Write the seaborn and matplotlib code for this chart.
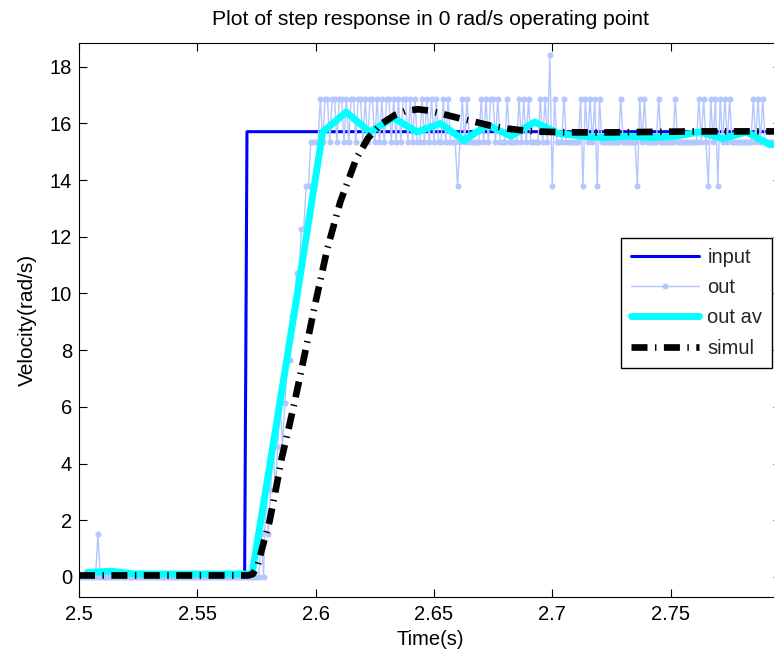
import numpy as np
import matplotlib
matplotlib.use("Agg")
import matplotlib.pyplot as plt
import seaborn as sns

# ---------------- data ----------------
input_t = [2.500, 2.5700, 2.5710, 2.7970]
input_v = [0.0, 0.0, 15.71, 15.71]

L, H, D, S = 15.34, 16.87, 13.80, 18.41
out_v = (
    [0.0] * 8 + [1.53] + [0.0] * 68 +                        # i 0..76
    [1.53, 0.0, 3.07, 1.53, 3.07, 4.60, 3.07, 4.60, 6.14, 4.60,
     6.14, 7.67, 7.67, 9.20, 9.20, 10.74, 10.74, 12.27, 12.27, 13.80,
     13.80, 15.34, 15.34] +                                  # i 77..99
    [L, L, H, L, H, H, L, H, H, L,
     H, H, L, H, L, H, H, L, H, H,
     L, H, L, H, H, L, H, L, H, L,
     H, H, L, H, L, H, L, H, H, L,
     H, L, H, L, L, H, L, H, L, H,
     L, H, L, L, H, L, H, L, L, L,
     D, L, H, L, H, L, L, L, L, L,
     H, L, H, L, H, H, L, H, L, L,
     L, H, L, L, L, L, H, L, H, L,
     H, L, L, L, L, H, L, H, L, S,
     D, H, L, L, L, H, L, L, L, L,
     L, L, H, D, H, L, H, L, H, D,
     H, L, L, L, L, L, L, L, L, H,
     L, L, L, L, L, L, D, H, L, H,
     L, L, L, L, L, H, L, L, L, L,
     L, L, H, L, L, L, L, L, L, L,
     L, L, H, L, H, L, D, H, L, H,
     D, H, L, H, L, H, L, L, L, L,
     L, L, L, L, L, H, L, H, L, H,
     L, L, L, L, L, L, L]                                    # i 100..296
)
out_t = 2.500 + 0.001 * np.arange(len(out_v))

avg_v = [0.15, 0.20, 0.10, 0.10, 0.10, 0.10, 0.10, 0.10, 5.20, 10.40,
         15.70, 16.40, 15.70, 16.20, 15.70, 16.00, 15.40, 15.95, 15.55, 16.05,
         15.65, 15.55, 15.50, 15.55, 15.50, 15.55, 15.70, 15.46, 15.70, 15.25,
         15.30]
avg_t = 2.5035 + 0.00995 * np.arange(len(avg_v))

sim_t = [2.500, 2.560, 2.5715, 2.5735, 2.5755, 2.578, 2.5805, 2.583, 2.5857,
         2.5885, 2.5912, 2.5955, 2.600, 2.605, 2.6105, 2.6172, 2.6223, 2.628,
         2.6336, 2.6385, 2.6433, 2.648, 2.6529, 2.660, 2.6672, 2.674, 2.681,
         2.688, 2.695, 2.705, 2.720, 2.740, 2.760, 2.780, 2.797]
sim_v = [0.05, 0.05, 0.05, 0.10, 0.40, 1.20, 1.95, 3.00, 4.20,
         5.20, 6.20, 7.90, 9.70, 11.60, 13.25, 14.76, 15.50, 16.00,
         16.30, 16.45, 16.50, 16.45, 16.35, 16.20, 16.06, 15.92, 15.82,
         15.75, 15.71, 15.69, 15.68, 15.70, 15.72, 15.72, 15.72]

x_ticks = [2.5, 2.55, 2.6, 2.65, 2.7, 2.75]
x_tick_labels = ["2.5", "2.55", "2.6", "2.65", "2.7", "2.75"]
y_ticks = [0, 2, 4, 6, 8, 10, 12, 14, 16, 18]

# ---------------- style ----------------
sns.set_style("ticks")
plt.rcParams["font.family"] = ["Liberation Sans", "DejaVu Sans"]
FS = 14.5

W, Hpx = 774, 659
fig = plt.figure(figsize=(W / 100, Hpx / 100), dpi=100)
ax_left, ax_right, ax_top, ax_bot = 79, 781, 42.7, 596.7
ax = fig.add_axes([ax_left / W, 1 - ax_bot / Hpx,
                   (ax_right - ax_left) / W, (ax_bot - ax_top) / Hpx])

sns.lineplot(x=input_t, y=input_v, ax=ax, color="#0000ff", linewidth=2.2,
             label="input", sort=False, estimator=None)
sns.lineplot(x=out_t, y=out_v, ax=ax, color="#b4c6ff", linewidth=1.0,
             marker="o", markersize=3.8, markeredgecolor="#b4c6ff",
             markerfacecolor="#b4c6ff", markeredgewidth=0.5,
             label="out", sort=False, estimator=None)
sns.lineplot(x=avg_t, y=avg_v, ax=ax, color="#00ffff", linewidth=5.0,
             label="out av", sort=False, estimator=None)
sns.lineplot(x=sim_t, y=sim_v, ax=ax, color="black", linewidth=4.8,
             label="simul", sort=False, estimator=None)
sim_line = ax.lines[-1]
sim_line.set_linestyle((0, (2.4, 1.12, 0.22, 1.12)))
sim_line.set_dash_capstyle("butt")

ax.set_xlim(2.5, 2.7967)
ax.set_ylim(-0.7, 18.85)
ax.set_xticks(x_ticks)
ax.set_xticklabels(x_tick_labels)
ax.set_yticks(y_ticks)
ax.set_yticklabels([str(v) for v in y_ticks])

ax.tick_params(axis="both", direction="in", length=5.5, width=0.8,
               top=True, right=True, labelsize=FS, colors="black")
ax.tick_params(axis="x", pad=6)
ax.tick_params(axis="y", pad=5)
for name, sp in ax.spines.items():
    sp.set_visible(name != "right")
    sp.set_color("black")
    sp.set_linewidth(0.8)

ax.set_title("Plot of step response in 0 rad/s operating point",
             fontsize=15.2, pad=13, color="black")
ax.set_xlabel("Time(s)", fontsize=FS, labelpad=4, color="black")
ax.set_ylabel("Velocity(rad/s)", fontsize=15, labelpad=9, color="black")

leg = ax.legend(loc="upper left", bbox_to_anchor=(0.7717, 0.647),
                borderaxespad=0, frameon=True, fancybox=False,
                edgecolor="black", framealpha=1, fontsize=FS,
                handlelength=3.4, handletextpad=0.4, labelspacing=0.55,
                borderpad=0.5)
leg.get_frame().set_linewidth(1.0)

fig.savefig("out.png", dpi=100)
